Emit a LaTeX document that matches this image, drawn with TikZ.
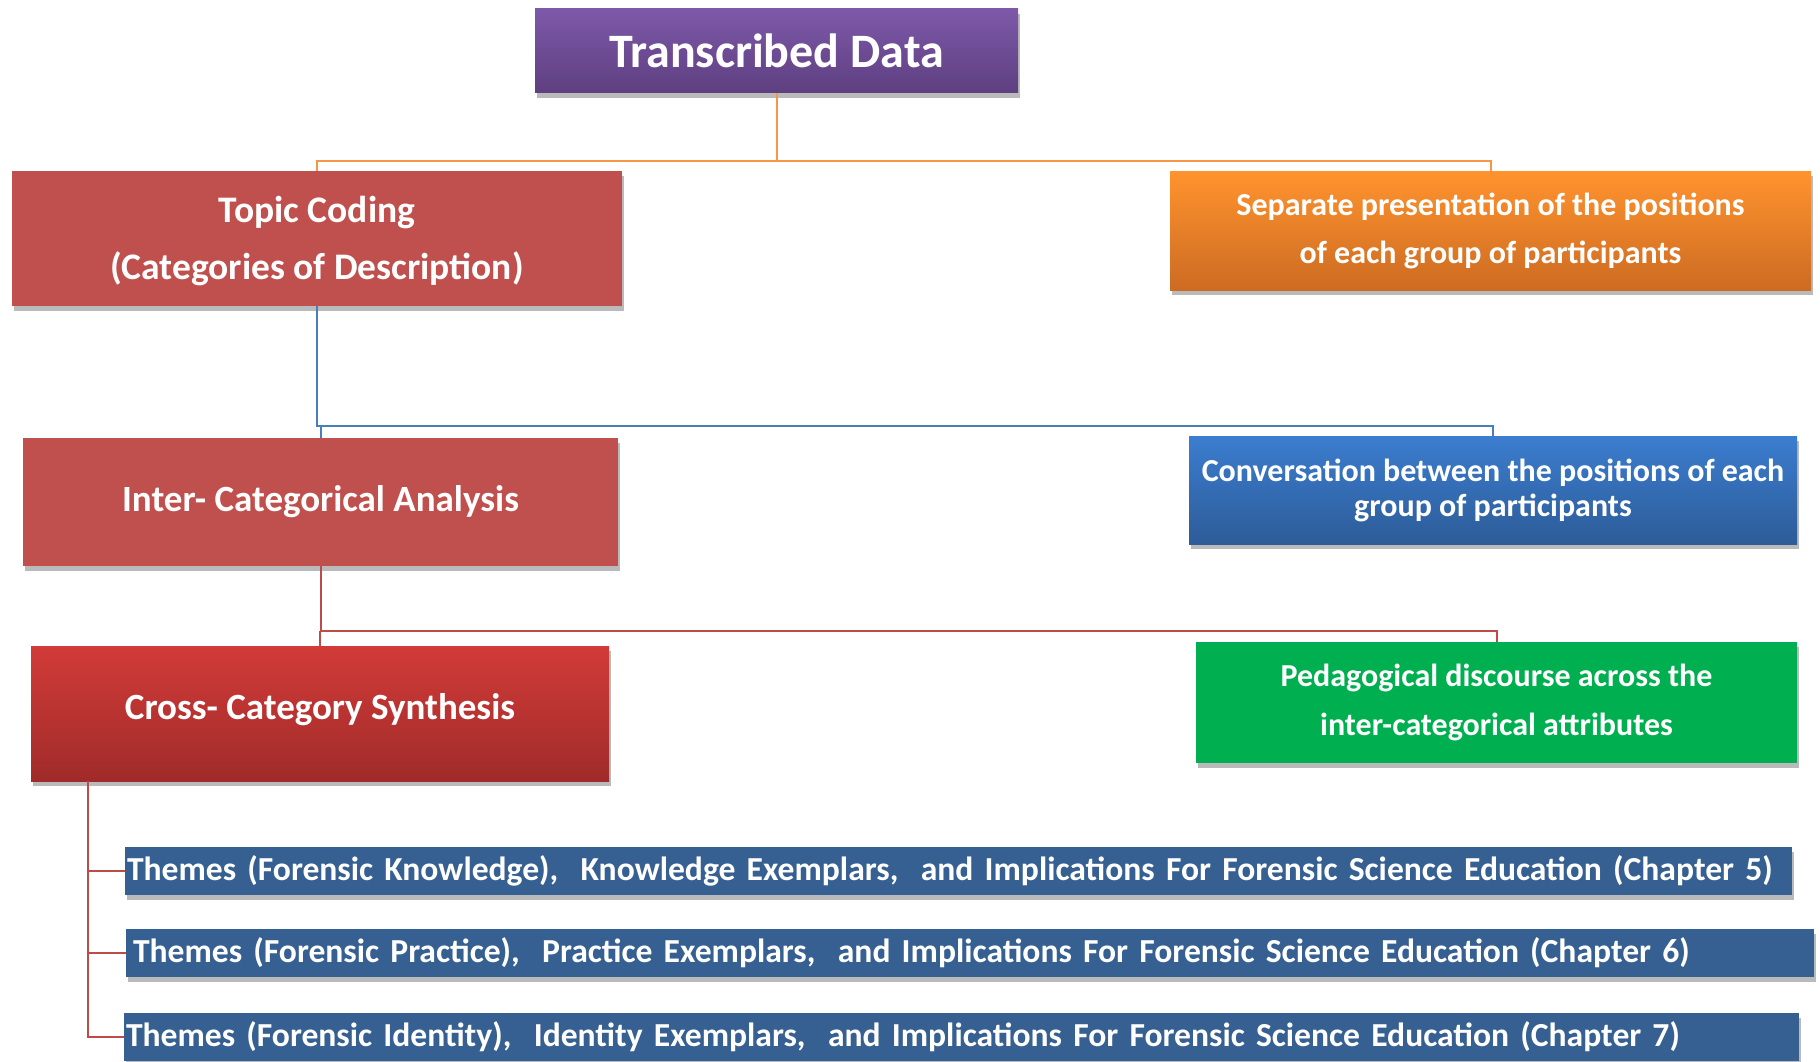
\documentclass[tikz,border=0pt]{standalone}
\usepackage{fontspec}
\setmainfont{Carlito}
\usetikzlibrary{shadows}
\definecolor{tdtop}{HTML}{7E59A9}
\definecolor{tdbot}{HTML}{5E3F80}
\definecolor{redflat}{HTML}{C0504D}
\definecolor{ortop}{HTML}{FF932E}
\definecolor{orbot}{HTML}{CC6B22}
\definecolor{bltop}{HTML}{3B7DCF}
\definecolor{blbot}{HTML}{2D5C98}
\definecolor{crtop}{HTML}{D13B38}
\definecolor{crbot}{HTML}{A02B2A}
\definecolor{grflat}{HTML}{00B050}
\definecolor{thflat}{HTML}{376092}
\definecolor{lnor}{HTML}{F79646}
\definecolor{lnbl}{HTML}{4A7EBB}
\definecolor{lnrd}{HTML}{BE4B48}
\tikzset{
  box/.style={rectangle, inner sep=0pt, text=white, align=center, font=\bfseries,
    drop shadow={opacity=0.45, shadow xshift=2pt, shadow yshift=-5pt, fill=black!60}},
  lbl/.style={text=white, align=center, inner sep=0pt},
  themebox/.style={box, fill=thflat, align=left, inner ysep=0pt, minimum height=48pt,
    font=\bfseries\fontsize{33.6}{36}\selectfont},
  conn/.style={line width=2pt},
}
\begin{document}
\begin{tikzpicture}[x=1pt,y=-1pt]
\useasboundingbox (0,0) rectangle (1820,1062);
\node[box, top color=tdtop, bottom color=tdbot, minimum width=483pt, minimum height=84pt,
  font=\bfseries\fontsize{48}{52}\selectfont] (td) at (776.5,51) {Transcribed Data};
\node[box, fill=redflat, minimum width=610pt, minimum height=135pt] (tc) at (317,238.5) {};
\node[lbl, font=\bfseries\fontsize{37.5}{57}\selectfont] (tct) at (317,241) {Topic Coding\\(Categories of Description)};
\node[box, top color=ortop, bottom color=orbot, minimum width=641pt, minimum height=119pt,
  font=\bfseries\fontsize{32}{48}\selectfont] (sep) at (1490.5,230.5) {Separate presentation of the positions\\of each group of participants};
\node[box, fill=redflat, minimum width=595pt, minimum height=128pt,
  font=\bfseries\fontsize{37}{40}\selectfont] (ica) at (320.5,502) {Inter- Categorical Analysis};
\node[box, top color=bltop, bottom color=blbot, minimum width=608pt, minimum height=108pt,
  font=\bfseries\fontsize{32}{35}\selectfont] (conv) at (1493,490) {Conversation between the positions of each\\group of participants};
\node[box, top color=crtop, bottom color=crbot, minimum width=578pt, minimum height=135pt] (ccs) at (320,713.5) {};
\node[lbl, font=\bfseries\fontsize{37}{40}\selectfont] (ccst) at (320,710) {Cross- Category Synthesis};
\node[box, fill=grflat, minimum width=601pt, minimum height=121pt,
  font=\bfseries\fontsize{32}{49}\selectfont] (ped) at (1496.5,702.5) {Pedagogical discourse across the\\inter-categorical attributes};
\node[themebox, inner xsep=2pt, text width=1663pt] (th1) at (958.5,871) {Themes (Forensic Knowledge),\ \ Knowledge Exemplars,\ \ and Implications For Forensic Science Education (Chapter 5)};
\node[themebox, inner xsep=7pt, text width=1674pt] (th2) at (970,953) {Themes (Forensic Practice),\ \ Practice Exemplars,\ \ and Implications For Forensic Science Education (Chapter 6)};
\node[themebox, inner xsep=2pt, text width=1671pt] (th3) at (961.5,1037) {Themes (Forensic Identity),\ \ Identity Exemplars,\ \ and Implications For Forensic Science Education (Chapter 7)};
% junction coordinates
\coordinate (oj) at (776.5,161);
\coordinate (bj) at (317,426);
\coordinate (rj) at (320.5,631);
\coordinate (cs) at (88,781);
% connectors
\draw[conn, lnor] (td.south) -- (oj) -| (tc.north);
\draw[conn, lnor] (oj) -| (sep.north);
\draw[conn, lnbl] (tc.south) -- (tc.south |- bj) -| (conv.north);
\draw[conn, lnbl] (ica.north |- bj) -- (ica.north);
\draw[conn, lnrd] (ica.south) -- (rj) -| (ped.north);
\draw[conn, lnrd] (ccs.north |- rj) -- (ccs.north);
\draw[conn, lnrd] (cs) |- (th1.west);
\draw[conn, lnrd] (cs) |- (th2.west);
\draw[conn, lnrd] (cs) |- (th3.west);
\end{tikzpicture}
\end{document}
